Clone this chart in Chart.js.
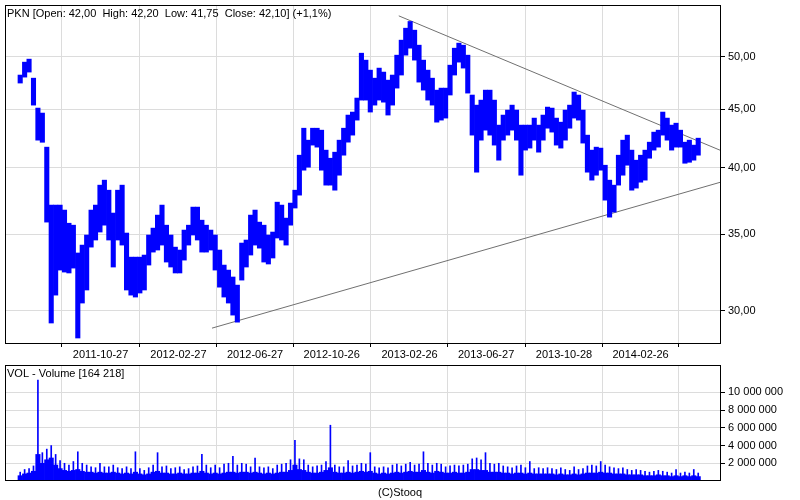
<!DOCTYPE html>
<html lang="pl">
<head>
<meta charset="UTF-8">
<title>PKN</title>
<style>
  html, body { margin: 0; padding: 0; background: #fff; }
  #wrap { position: relative; width: 800px; height: 500px; }
  #priceBox { position: absolute; left: 0; top: 0; width: 800px; height: 362px; }
  #volBox { position: absolute; left: 0; top: 362px; width: 800px; height: 138px; }
</style>
<script src="https://cdn.jsdelivr.net/npm/chart.js"></script>
</head>
<body>
<div id="wrap">
  <div id="priceBox"><canvas id="price"></canvas></div>
  <div id="volBox"><canvas id="vol"></canvas></div>
</div>
<script>
// weekly bars, first week starts 2011-06-20
const firstWeek = '2011-06-20';
const weeklyHigh = [
  48.20, 49.47, 49.77, 47.90, 45.10, 44.65, 41.69, 37.10, 37.10, 37.10,
  36.73, 35.77, 35.63, 33.69, 34.23, 34.93, 36.73, 37.10, 38.62, 39.01,
  38.23, 36.51, 38.23, 38.62, 35.07, 33.41, 33.41, 33.41, 33.55, 34.93,
  35.42, 36.36, 37.10, 35.63, 34.93, 34.09, 33.89, 35.28, 35.63, 36.95,
  36.95, 35.99, 35.63, 35.28, 34.93, 33.89, 32.88, 32.55, 32.10, 31.58,
  34.37, 34.58, 36.36, 36.73, 35.85, 35.63, 34.93, 35.14, 37.32, 37.10,
  36.14, 37.25, 38.23, 41.02, 43.31, 42.28, 43.31, 43.31, 43.14, 41.44,
  40.77, 41.27, 42.28, 43.31, 44.47, 44.74, 46.02, 50.37, 49.67, 48.68,
  47.90, 48.88, 48.49, 47.71, 48.20, 50.17, 51.71, 52.97, 53.69, 52.76,
  51.19, 49.67, 48.68, 47.90, 46.76, 46.95, 46.95, 49.17, 50.88, 51.40,
  51.19, 50.17, 46.30, 45.37, 45.83, 46.76, 46.76, 45.83, 43.58, 44.47,
  44.92, 45.37, 44.92, 43.58, 43.58, 43.58, 44.20, 43.58, 44.47, 45.19,
  45.10, 44.20, 43.84, 44.92, 45.37, 46.58, 46.30, 44.92, 42.71, 41.44,
  41.69, 41.61, 40.20, 39.01, 38.62, 41.02, 42.28, 42.71, 41.44, 40.61,
  41.02, 41.44, 42.11, 42.97, 43.14, 44.74, 44.20, 43.58, 43.75, 43.14,
  42.11, 42.28, 41.86, 42.45
];
const weeklyLow = [
  47.43, 48.00, 48.49, 45.37, 42.28, 42.10, 35.85, 29.26, 30.95, 32.55,
  32.42, 32.36, 32.68, 28.39, 30.46, 31.27, 34.09, 34.58, 35.14, 35.63,
  34.58, 32.75, 34.58, 34.23, 31.27, 30.95, 30.83, 31.08, 31.27, 32.88,
  33.75, 33.89, 34.23, 33.08, 32.75, 32.36, 32.36, 33.21, 34.23, 34.93,
  34.58, 33.75, 33.75, 33.89, 32.55, 31.45, 30.83, 30.46, 29.73, 29.31,
  31.90, 32.75, 33.55, 34.23, 34.02, 33.08, 32.95, 33.35, 34.72, 34.58,
  34.23, 35.63, 36.88, 37.85, 39.80, 40.04, 41.86, 41.69, 39.80, 38.62,
  38.62, 38.23, 39.40, 41.02, 42.11, 42.71, 44.02, 45.83, 45.83, 44.74,
  45.37, 45.83, 45.64, 44.47, 45.37, 46.95, 48.20, 50.17, 50.88, 49.67,
  47.52, 46.76, 45.83, 45.37, 43.84, 44.02, 44.20, 46.30, 48.20, 49.47,
  48.88, 46.48, 42.71, 39.64, 42.28, 43.14, 42.71, 41.86, 40.61, 42.28,
  42.71, 43.14, 42.28, 39.40, 41.44, 41.61, 42.28, 41.27, 42.28, 43.31,
  42.97, 41.86, 41.61, 42.28, 43.31, 44.20, 44.02, 42.03, 39.64, 39.01,
  39.40, 39.80, 37.47, 36.21, 36.58, 38.62, 39.40, 40.20, 38.23, 38.39,
  38.85, 39.01, 40.77, 41.44, 41.69, 42.71, 42.28, 41.44, 41.69, 41.69,
  40.36, 40.44, 40.61, 41.02
];
// volume in millions of shares: typical day and busiest day of each week
const volAvg = [
  0.6, 0.8, 0.9, 1.1, 3.0, 2.0, 2.4, 2.6, 1.8, 1.4,
  1.2, 1.1, 1.2, 1.3, 1.1, 1.0, 1.0, 0.9, 1.0, 0.9,
  0.9, 1.0, 0.9, 0.8, 0.9, 0.8, 1.0, 0.8, 0.7, 0.8,
  1.0, 1.1, 0.9, 0.9, 0.8, 0.8, 0.9, 0.8, 0.8, 0.9,
  0.9, 1.1, 0.9, 0.8, 0.9, 0.8, 0.9, 1.0, 1.0, 0.9,
  1.0, 1.0, 0.9, 1.0, 0.9, 0.8, 0.9, 0.8, 0.9, 1.0,
  1.0, 1.2, 1.8, 1.3, 1.2, 1.0, 0.9, 0.9, 1.0, 1.2,
  1.5, 1.0, 0.9, 0.9, 1.0, 0.9, 1.0, 1.1, 1.0, 1.1,
  0.9, 0.8, 0.9, 0.8, 0.9, 1.0, 0.9, 1.0, 1.1, 1.0,
  1.0, 1.2, 1.0, 0.9, 1.1, 1.0, 0.9, 0.9, 1.0, 0.9,
  0.9, 1.0, 1.3, 1.3, 1.2, 1.2, 1.0, 1.0, 1.0, 0.9,
  0.9, 0.8, 0.9, 0.9, 0.8, 0.9, 0.8, 0.8, 0.8, 0.8,
  0.8, 0.7, 0.8, 0.7, 0.7, 0.8, 0.7, 0.8, 0.9, 0.9,
  0.9, 1.0, 0.9, 0.9, 0.8, 0.8, 0.8, 0.7, 0.7, 0.7,
  0.7, 0.6, 0.6, 0.6, 0.7, 0.6, 0.6, 0.5, 0.6, 0.5,
  0.6, 0.5, 0.6, 0.5
];
const volMax = [
  1.0, 1.3, 1.4, 1.7, 11.4, 3.2, 3.6, 4.0, 3.0, 2.3,
  2.0, 1.8, 2.2, 3.3, 2.0, 1.8, 1.6, 1.5, 2.0, 1.6,
  1.6, 1.8, 1.5, 1.4, 1.6, 1.4, 3.3, 1.4, 1.2, 1.5,
  1.8, 3.2, 1.6, 1.7, 1.4, 1.5, 1.6, 1.3, 1.4, 1.6,
  1.7, 3.0, 1.8, 1.5, 1.8, 1.5, 1.9, 2.0, 2.8, 1.8,
  2.0, 1.9, 1.6, 2.6, 1.6, 1.5, 1.6, 1.4, 1.8, 1.9,
  2.0, 2.4, 4.6, 2.5, 2.4, 1.8, 1.6, 1.7, 1.8, 2.2,
  6.3, 1.8, 1.6, 1.6, 2.3, 1.7, 1.8, 2.0, 1.9, 3.2,
  1.6, 1.5, 1.6, 1.5, 1.8, 1.9, 1.7, 1.9, 2.1, 1.8,
  1.9, 3.3, 2.0, 1.8, 2.0, 1.9, 1.6, 1.7, 1.8, 1.7,
  1.8, 1.9, 2.5, 2.6, 2.4, 3.2, 2.0, 1.9, 2.0, 1.7,
  1.6, 1.5, 1.7, 1.8, 1.5, 2.2, 1.4, 1.5, 1.4, 1.5,
  1.4, 1.3, 1.5, 1.3, 1.2, 1.6, 1.3, 1.4, 1.7, 1.8,
  1.7, 2.2, 1.8, 1.6, 1.5, 1.4, 1.5, 1.3, 1.2, 1.3,
  1.2, 1.1, 1.0, 1.1, 1.2, 1.1, 1.0, 0.9, 1.3, 0.9,
  1.0, 0.9, 1.3, 0.9
];
// support / resistance lines [date, price]
const upperLine = [['2013-02-09', 54.3], ['2014-07-03', 41.4]];
const lowerLine = [['2012-04-20', 28.96], ['2014-07-03', 38.86]];
const dateTicks = ['2011-06-27', '2011-10-27', '2012-02-27', '2012-06-27', '2012-10-26',
                   '2013-02-26', '2013-06-27', '2013-10-28', '2014-02-26'];
const dateLabels = ['', '2011-10-27', '2012-02-27', '2012-06-27', '2012-10-26',
                    '2013-02-26', '2013-06-27', '2013-10-28', '2014-02-26'];
const priceTicks = [30, 35, 40, 45, 50];
const volTicks = [2, 4, 6, 8, 10];
const headText = 'PKN [Open: 42,00  High: 42,20  Low: 41,75  Close: 42,10] (+1,1%)';
const volText = 'VOL - Volume [164 218]';

const FONT = "'Liberation Sans', Arial, sans-serif";
Chart.defaults.font.family = FONT;
Chart.defaults.font.size = 11;
Chart.defaults.color = '#000';
Chart.defaults.animation = false;

function dayNum(s) {
  const p = s.split('-').map(Number);
  return (Date.UTC(p[0], p[1] - 1, p[2]) - Date.UTC(2011, 5, 20)) / 86400000;
}
const week0 = dayNum(firstWeek) + 2;
const barX = weeklyHigh.map((_, i) => week0 + 7 * i);
const X_MIN = -22, X_MAX = 1109;

function spaced(n) {
  return String(Math.round(n)).replace(/\B(?=(\d{3})+(?!\d))/g, ' ');
}

// no automatic label padding: the panels sit at fixed places
function noPad(s) {
  s.paddingTop = 0; s.paddingBottom = 0; s.paddingLeft = 0; s.paddingRight = 0;
}

const frame = {
  id: 'frame',
  afterDraw(chart, args, opts) {
    const { ctx, chartArea: a } = chart;
    ctx.save();
    ctx.strokeStyle = '#000';
    ctx.lineWidth = 1;
    ctx.strokeRect(a.left + 0.5, a.top + 0.5, a.right - a.left - 1, a.bottom - a.top - 1);
    ctx.fillStyle = '#000';
    ctx.font = '11px ' + FONT;
    ctx.textBaseline = 'top';
    ctx.textAlign = 'left';
    ctx.fillText(opts.text, a.left + 2, a.top + 3);
    if (opts.footer) {
      ctx.textAlign = 'center';
      ctx.fillText(opts.footer, chart.width / 2, a.bottom + 6);
    }
    ctx.restore();
  }
};

function xScale(showLabels, height) {
  return {
    type: 'linear', min: X_MIN, max: X_MAX, offset: false,
    afterBuildTicks: s => { s.ticks = dateTicks.map(d => ({ value: dayNum(d) })); },
    afterFit: s => { s.height = height; noPad(s); },
    ticks: {
      display: showLabels, autoSkip: false, maxRotation: 0, padding: 1,
      callback: (v, i) => dateLabels[i]
    },
    grid: { color: '#dcdcdc', tickColor: '#000', tickLength: showLabels ? 3 : 0 },
    border: { display: false }
  };
}

new Chart(document.getElementById('price'), {
  type: 'bar',
  data: {
    datasets: [
      {
        label: 'PKN',
        data: barX.map((x, i) => ({ x: x, y: [weeklyLow[i], weeklyHigh[i]] })),
        backgroundColor: '#0000ff',
        borderWidth: 0,
        barPercentage: 1,
        categoryPercentage: 1,
        grouped: false
      },
      {
        type: 'line',
        data: upperLine.map(p => ({ x: dayNum(p[0]), y: p[1] })),
        borderColor: '#707070', borderWidth: 1, pointRadius: 0
      },
      {
        type: 'line',
        data: lowerLine.map(p => ({ x: dayNum(p[0]), y: p[1] })),
        borderColor: '#707070', borderWidth: 1, pointRadius: 0
      }
    ]
  },
  options: {
    responsive: true,
    maintainAspectRatio: false,
    layout: { padding: { left: 5, top: 5, right: 0, bottom: 0 } },
    plugins: { legend: { display: false }, tooltip: { enabled: false }, frame: { text: headText } },
    scales: {
      x: xScale(true, 18),
      y: {
        type: 'logarithmic', position: 'right', min: 28.05, max: 55.5,
        afterBuildTicks: s => { s.ticks = priceTicks.map(v => ({ value: v })); },
        afterFit: s => { s.width = 79; noPad(s); },
        ticks: { padding: 3, callback: v => v.toFixed(2).replace('.', ',') },
        grid: { color: '#dcdcdc', tickColor: '#000', tickLength: 4 },
        border: { display: false }
      }
    }
  },
  plugins: [frame]
});

new Chart(document.getElementById('vol'), {
  type: 'bar',
  data: {
    datasets: [
      {
        data: barX.map((x, i) => ({ x: x, y: volAvg[i] })),
        backgroundColor: '#0000ff', borderWidth: 0,
        barPercentage: 1, categoryPercentage: 1, grouped: false
      },
      {
        data: barX.map((x, i) => ({ x: x, y: volMax[i] })),
        backgroundColor: '#0000ff', borderWidth: 0,
        barThickness: 1, grouped: false
      }
    ]
  },
  options: {
    responsive: true,
    maintainAspectRatio: false,
    layout: { padding: { left: 5, top: 3, right: 0, bottom: 0 } },
    plugins: {
      legend: { display: false }, tooltip: { enabled: false },
      frame: { text: volText, footer: '(C)Stooq' }
    },
    scales: {
      x: xScale(false, 19),
      y: {
        type: 'linear', position: 'right', min: 0, max: 13.1,
        afterBuildTicks: s => { s.ticks = volTicks.map(v => ({ value: v })); },
        afterFit: s => { s.width = 79; noPad(s); },
        ticks: { padding: 3, callback: v => spaced(v * 1e6) },
        grid: { color: '#dcdcdc', tickColor: '#000', tickLength: 4 },
        border: { display: false }
      }
    }
  },
  plugins: [frame]
});
</script>
</body>
</html>
